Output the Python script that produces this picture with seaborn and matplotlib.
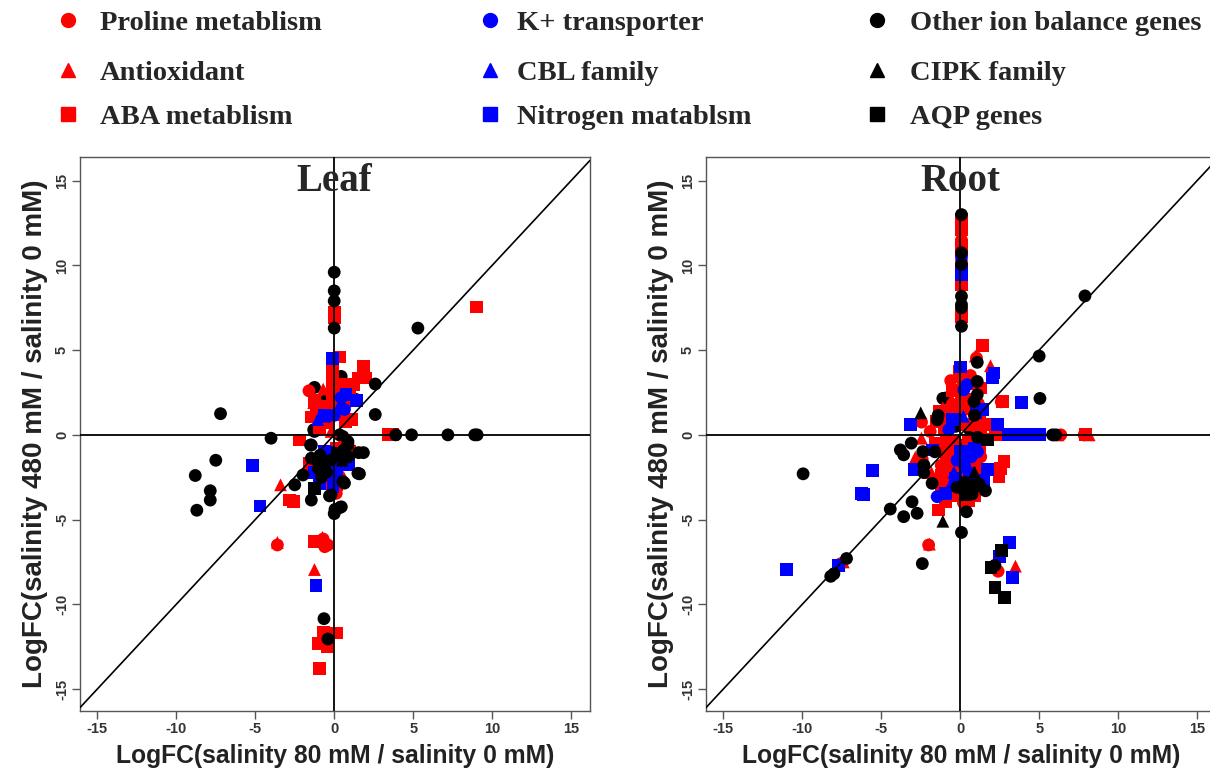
import matplotlib
matplotlib.use("Agg")
import matplotlib.pyplot as plt
from matplotlib.lines import Line2D
import seaborn as sns
import pandas as pd

# ---------------- data (LogFC 80 mM, LogFC 480 mM) ----------------
leaf_proline = [(-1.6, 2.6), (-0.95, 1.75), (-0.2, -1.25), (-3.6, -6.5), (-0.6, -6.6), (-0.7, -6.15),
                (0.13, -3.45), (-1.1, 1.5), (0.5, -0.9), (0.8, 1.9), (-0.4, -6.5)]
leaf_antiox = [(-0.7, 2.7), (-3.4, -2.95), (-3.6, -6.35), (-1.25, -7.95), (-0.75, -6.05), (0.75, 1.15),
               (-0.2, 0.2), (0.9, -1.7), (-1.3, 1.9), (0.6, -2.5)]
leaf_aba = [(0, 7.25), (0, 6.9), (9.0, 7.55), (0.35, 4.6), (1.85, 4.05), (1.55, 3.35), (2.0, 3.35),
            (1.2, 2.95), (0.45, 2.95), (-0.1, 4.0), (-0.1, 3.6), (-0.1, 3.2), (-0.1, 2.8), (-0.1, 2.4),
            (-0.1, 2.0), (-0.1, 1.6), (-0.1, 1.2), (-2.2, -0.3), (3.45, 0), (3.7, 0), (-2.85, -3.85),
            (-2.6, -3.95), (-1.25, -6.3), (-0.95, -6.3), (-0.7, -11.65), (0.15, -11.7), (-1.0, -12.3),
            (-0.45, -12.5), (-0.95, -13.8), (-1.45, 1.05), (-0.93, 0.4), (-1.25, 2.05), (-1.15, 1.6),
            (-0.65, 1.7), (0.23, 1.2), (0.65, -0.75), (-0.95, -2.9), (-0.7, -1.7), (0.95, -1.0),
            (0.13, -0.8), (-1.55, -1.7), (-1.35, -2.05), (0.13, -2.95), (-0.8, -2.85), (0.55, -1.4),
            (1.1, 0.9), (0.7, 0.8), (-0.4, 0.7), (0.6, 2.3), (1.0, 2.2)]
leaf_k = [(0.44, 2.2), (0, 1.15), (0.65, 1.5), (-0.3, -1.0), (0.3, -1.8)]
leaf_cbl = [(-0.6, 1.1), (0.25, 1.6), (-1.05, 0.9), (0.6, -1.3)]
leaf_nitro = [(-0.1, 4.5), (-5.2, -1.8), (-4.7, -4.2), (-1.15, -8.9), (-0.6, -1.0), (-0.7, -1.3),
              (1.4, 2.05), (0.75, 2.4), (-0.6, 1.15), (-1.25, -2.2), (-0.2, -2.0), (0.13, -2.4),
              (0.65, -1.7), (0.0, -2.5), (-0.08, -3.05), (0.9, -1.75), (0.4, -1.45), (-0.95, -2.9)]
leaf_other = [(0, 9.6), (0, 8.5), (0, 7.9), (0, 6.3), (5.3, 6.3), (2.6, 3.0), (2.6, 1.2), (-7.2, 1.25),
              (-4.0, -0.2), (-1.5, -0.6), (-7.5, -1.5), (-8.8, -2.4), (-7.85, -3.3), (-7.85, -3.85),
              (-8.7, -4.45), (-2.5, -2.95), (-1.98, -2.37), (-1.45, -3.85), (-0.2, -3.55), (0.45, -4.25),
              (0, -4.65), (0.05, -4.4), (3.9, 0), (4.9, 0), (7.2, 0), (8.9, 0), (9.05, 0), (1.6, -2.3),
              (1.55, -1.05), (1.85, -1.05), (0.34, 0), (0.55, -0.1), (0.87, -0.4), (0.87, -0.6),
              (-0.65, -10.85), (-0.4, -12.05), (-1.25, 2.8), (-0.45, 2.15), (0.44, 3.45), (0.97, 2.65),
              (1.35, 2.1), (-1.3, 0.3), (-1.25, 0.2), (-1.45, -0.6), (-1.45, -1.38),
              (-1.03, -1.58), (-0.6, -1.68), (-0.19, -1.48), (0.55, -2.76), (0.65, -2.85), (-0.3, -3.6),
              (0.34, -4.3), (1.5, -2.27), (-1.0, -2.0), (-0.5, -2.2), (0.2, -1.2),
              (0.9, -1.3), (0.6, -0.9), (-0.9, -1.2), (-0.8, -2.5)]
leaf_cipk = [(0.5, -1.5), (-0.5, -2.0), (0.3, 2.0)]
leaf_aqp = [(-1.25, -3.15), (0.2, -1.1)]

root_proline = [(0.08, 12.5), (0.08, 11.5), (0.08, 10.25), (0.08, 8.9), (0.08, 7.3), (1.03, 4.54),
                (2.6, 1.95), (-2.45, 0.75), (-2.0, -6.5), (2.4, -8.05), (-7.55, -7.6), (0.65, 3.5),
                (1.15, 1.85), (1.0, 0.65), (-1.04, 0.59), (-1.9, 0.2), (-2.41, -1.44), (1.15, 2.8),
                (0.3, 1.5), (-0.5, 1.8), (0.5, -1.5), (-0.4, -2.5), (0.8, -3.2), (-1.2, -1.8),
                (0.1, -3.7), (6.37, 0), (7.85, 0), (0.97, 0.49), (-0.8, -2.9), (0.6, -2.0), (1.0, -1.0),
                (-0.3, -0.4), (0.9, -0.5), (-1.4, -2.8), (0.2, -4.0), (1.3, -1.3), (-0.6, 3.2)]
root_antiox = [(0.08, 11.8), (0.08, 9.17), (1.92, 4.08), (0.95, 4.65), (-0.55, 2.1), (-2.45, -0.2),
               (-2.84, -1.32), (-1.82, -2.23), (-1.95, -6.45), (-7.4, -7.5), (3.5, -7.75), (6.2, 0),
               (8.17, 0), (-1.1, 1.6), (0.4, 2.3), (-0.3, -1.2), (0.9, -1.8), (-1.0, -3.3), (0.2, -2.6),
               (0.7, 0.9), (-0.7, 0.6), (2.03, 0.1)]
root_aba = [(0.08, 12.7), (0.08, 12.4), (0.08, 12.1), (0.08, 11.2), (0.08, 10.95), (0.08, 8.88),
            (0.08, 7.0), (1.4, 5.27), (-0.08, 3.75), (0.13, 3.45), (2.67, 1.97), (1.92, 0.59),
            (1.29, 2.76), (-1.04, -3.06), (-0.93, -3.95), (-1.35, -4.44), (2.77, -1.58), (2.56, -1.97),
            (2.46, -2.47), (2.2, 0), (2.5, 0), (2.8, 0), (3.3, 0), (3.5, 0), (4.1, 0), (4.3, 0), (4.8, 0),
            (7.95, 0), (1.65, -0.25), (0.5, -0.3), (-0.6, -1.6), (-0.2, -2.2), (0.3, -1.1), (0.7, -2.6),
            (-1.2, -2.4), (0.9, 2.1), (-0.8, 1.3), (-1.3, 1.4), (0.4, -3.4), (-0.5, -3.6), (1.2, -0.7),
            (-0.3, 0.9), (0.6, 3.0), (1.0, -1.9), (-1.0, 0.3), (1.2, 1.1), (-0.9, -1.1),
            (-0.4, -1.0), (0.2, -1.6), (0.8, -1.4), (-0.7, -2.2), (0.4, -2.4), (-0.2, -3.0), (1.1, -2.4),
            (0.9, -3.6), (-1.2, -3.5), (0.3, 0.6), (-0.5, 2.6), (0.2, 3.2), (0.7, 1.6), (-1.5, 0.8),
            (-1.6, -0.5), (0.5, -3.9), (-0.9, -0.4), (1.3, 0.3), (0.1, 2.0), (-0.2, 1.3)]
root_k = [(0.08, 10.5), (-1.46, -3.65), (0.44, 2.96), (0.23, 2.66), (-0.72, 0.3), (0.3, -1.9),
          (-0.2, -1.5), (0.7, -1.3), (1.1, -1.0)]
root_cbl = [(-0.4, -2.2), (0.5, -0.9), (0.2, 1.1), (-0.6, -2.9)]
root_nitro = [(0.08, 9.76), (0.08, 9.47), (0, 4.0), (2.14, 3.65), (2.03, 3.35), (3.89, 1.91),
              (2.35, 0.59), (-3.15, 0.63), (-0.5, 0.89), (-2.88, -2.03), (-1.78, -0.89), (-0.93, -3.45),
              (1.71, -2.03), (1.5, -2.66), (3.1, -6.35), (2.5, -7.2), (3.3, -8.4), (-11.0, -7.95),
              (-6.25, -3.45), (-6.15, -3.5), (-5.55, -2.1), (-7.7, -7.7), (3.05, 0), (3.8, 0),
              (4.55, 0), (5.05, 0), (1.4, 1.48), (0.35, -1.2), (-0.3, -2.6),
              (0.6, -2.3), (0.0, -1.0), (0.9, -0.8), (1.0, 1.3)]
root_other = [(0.08, 13.0), (0.08, 10.75), (0.08, 10.06), (0.08, 8.18), (0.08, 7.69), (0.08, 7.5),
              (0.08, 6.41), (7.9, 8.2), (5.0, 4.65), (5.05, 2.15), (5.85, 0), (6.05, 0), (1.08, 4.28),
              (1.08, 3.15), (1.08, 2.37), (0.87, 1.97), (-0.93, 2.17), (-1.25, 1.18), (-1.46, 0.89),
              (-1.1, 2.15), (-9.95, -2.3), (-8.2, -8.35), (-8.0, -8.2), (-7.2, -7.3), (-4.43, -4.38),
              (-3.58, -4.83), (-2.73, -4.63), (-3.05, -3.95), (-2.4, -7.6), (0.08, -5.76), (0.4, -4.54),
              (1.6, -3.3), (0.75, -3.5), (2.2, -7.7), (-3.1, -0.49), (-3.79, -0.89), (-3.58, -1.18),
              (-2.37, -0.99), (-2.3, -1.78), (-2.3, -2.23), (-1.78, -2.86), (-1.4, 1.15), (0.9, 1.15),
              (1.1, -0.15), (-0.5, -1.8), (0.3, -2.8), (1.2, -2.9), (0.4, -3.0), (-0.2, -3.1),
              (0.6, 0.3), (-0.3, 0.5), (0.2, -0.6), (-0.6, -0.8), (0.5, 1.9), (-1.6, -1.0)]
root_cipk = [(-2.5, 1.3), (-1.1, -5.1), (-0.4, -0.5), (0.9, -2.2)]
root_aqp = [(2.6, -6.85), (1.95, -7.85), (2.2, -9.0), (2.8, -9.6), (1.71, -0.3), (0.3, -3.5), (1.0, -3.0)]

groups = ["Proline metablism", "Antioxidant", "ABA metablism",
          "K+ transporter", "CBL family", "Nitrogen matablsm",
          "Other ion balance genes", "CIPK family", "AQP genes"]
tick_values = [-15, -10, -5, 0, 5, 10, 15]
x_label = "LogFC(salinity 80 mM / salinity 0 mM)"
y_label = "LogFC(salinity 480 mM / salinity 0 mM)"

# ---------------- styles ----------------
RED, BLUE, BLACK = "#FF0000", "#0000FF", "#000000"
palette = dict(zip(groups, [RED, RED, RED, BLUE, BLUE, BLUE, BLACK, BLACK, BLACK]))
markers = dict(zip(groups, ["o", "^", "s"] * 3))
black_groups = groups[6:]

# base drawing order (later = on top): black, red, blue
layer_of = {"Other ion balance genes": 0, "CIPK family": 0, "AQP genes": 0,
            "Proline metablism": 1, "Antioxidant": 1, "ABA metablism": 1,
            "K+ transporter": 2, "CBL family": 2, "Nitrogen matablsm": 2}


def make_df(lists, black_top):
    rows = []
    for g, pts in zip(groups, lists):
        for x, y in pts:
            rows.append({"x": x, "y": y, "group": g})
    df = pd.DataFrame(rows)
    df["layer"] = df["group"].map(layer_of)
    on_top = df["group"].isin(black_groups) & black_top(df)
    df.loc[on_top, "layer"] = 3
    return df.sort_values("layer", kind="stable").reset_index(drop=True)


leaf_df = make_df([leaf_proline, leaf_antiox, leaf_aba, leaf_k, leaf_cbl, leaf_nitro,
                   leaf_other, leaf_cipk, leaf_aqp],
                  lambda d: (d["y"] < -0.3) | (d["x"].abs() > 1.6) | (d["y"] > 5))
root_df = make_df([root_proline, root_antiox, root_aba, root_k, root_cbl, root_nitro,
                   root_other, root_cipk, root_aqp],
                  lambda d: (d["y"] < -2.6) | (d["y"] > 4) | (d["x"].abs() > 1.3) | (d["x"] > 0.8))

sns.set_theme(style="white")
plt.rcParams["font.family"] = ["Liberation Sans", "DejaVu Sans"]

W, H = 1210, 776
fig = plt.figure(figsize=(W / 100, H / 100), dpi=100)

serif = ["Liberation Serif", "DejaVu Serif"]


def px_axes(left, top, right, bottom):
    return fig.add_axes([left / W, 1 - bottom / H, (right - left) / W, (bottom - top) / H])


panels = [(leaf_df, "Leaf", px_axes(80, 157, 590, 711)),
          (root_df, "Root", px_axes(706, 157, 1216, 711))]

for df, title, ax in panels:
    sns.scatterplot(data=df, x="x", y="y", hue="group", style="group", palette=palette,
                    markers=markers, s=85, linewidth=0, legend=False, ax=ax, zorder=2)
    ax.set_xlim(-16.1, 16.2)
    ax.set_ylim(-16.3, 16.4)
    ax.axhline(0, color="black", lw=1.3, zorder=3)
    ax.axvline(0, color="black", lw=1.3, zorder=3)
    ax.axline((0, 0), slope=1, color="black", lw=1.2, zorder=3)
    ax.set_xticks(tick_values)
    ax.set_yticks(tick_values)
    ax.set_xticklabels([str(t) for t in tick_values], fontsize=10.5, fontweight="bold", color="#333333")
    ax.set_yticklabels([str(t) for t in tick_values], fontsize=10.5, fontweight="bold", color="#333333",
                       rotation=90, va="center")
    ax.tick_params(axis="both", direction="out", length=6, width=1, color="#555555",
                   bottom=True, left=True, pad=2)
    for sp in ax.spines.values():
        sp.set_color("#555555")
        sp.set_linewidth(1.0)
    ax.set_xlabel(x_label, fontsize=17.7, fontweight="bold", color="#222222", labelpad=6)
    ax.set_ylabel(y_label, fontsize=20, fontweight="bold", color="#222222", labelpad=5)
    ax.text(0.0, 14.95, title, ha="center", va="center", fontsize=28, fontweight="bold",
            family=serif, zorder=4)

# ---------------- legend at top ----------------
legend_cols = [(68, 100), (490, 517), (877, 910)]
legend_rows = [20, 70, 114]
col_colors = [RED, BLUE, BLACK]
shape_list = ["o", "^", "s"]
for ci, (mx, tx) in enumerate(legend_cols):
    for ri, ry in enumerate(legend_rows):
        g = groups[ci * 3 + ri]
        fig.add_artist(Line2D([mx / W], [1 - ry / H], marker=shape_list[ri], color=col_colors[ci],
                              markersize=10, linestyle="none", transform=fig.transFigure))
        fig.text(tx / W, 1 - (ry + 3) / H, g, ha="left", va="center", fontsize=20.5, fontweight="bold",
                 family=serif)

fig.savefig("out.png", dpi=100)
